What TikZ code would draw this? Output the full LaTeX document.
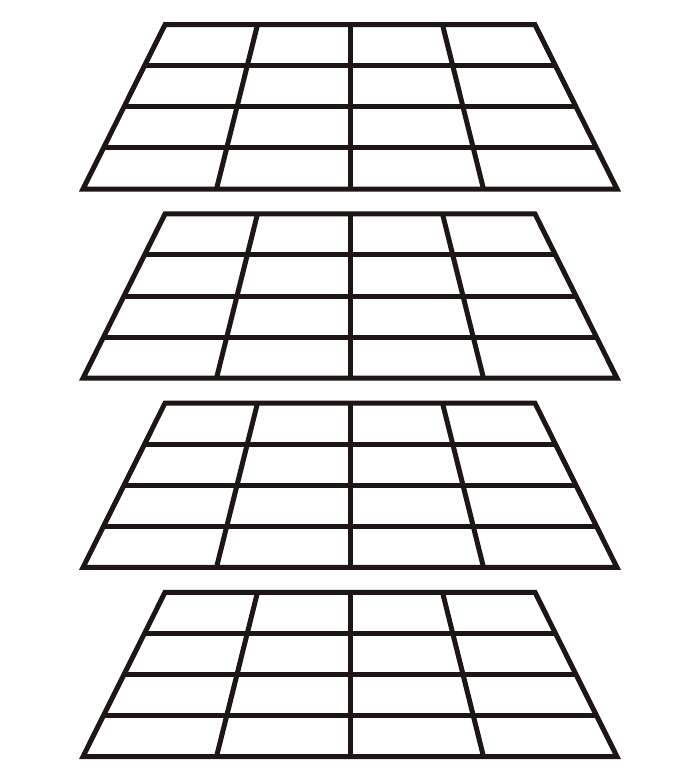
\documentclass[tikz,border=0pt]{standalone}
\usepackage{tikz}
\usetikzlibrary{calc}
\usepackage{xcolor}
\definecolor{gridink}{RGB}{30,22,20}

\begin{document}
\begin{tikzpicture}[x=1pt,y=-1pt]
\tikzset{
layer/.style={draw=gridink, line width=5pt, line join=miter}, % the thick lines of every layer
}
\useasboundingbox (0,0) rectangle (700,782);
\foreach \k in {0,...,3}{
	\pgfmathsetmacro{\tp}{24.7+189.2*\k} % top edge of this layer
	\pgfmathsetmacro{\bt}{\tp+164.3} % bottom edge of this layer
	\coordinate (tl\k) at (165,\tp);
	\coordinate (tr\k) at (535,\tp);
	\coordinate (br\k) at (617,\bt);
	\coordinate (bl\k) at (83,\bt);
	% rows
	\foreach \j in {1,2,3}{
		\draw[layer] ($(tl\k)!\j/4!(bl\k)$) -- ($(tr\k)!\j/4!(br\k)$);
	}
	% columns
	\foreach \i in {1,2,3}{
		\draw[layer] ($(tl\k)!\i/4!(tr\k)$) -- ($(bl\k)!\i/4!(br\k)$);
	}
	% outline
	\draw[layer] (tl\k) -- (tr\k) -- (br\k) -- (bl\k) -- cycle;
}
\end{tikzpicture}
\end{document}
